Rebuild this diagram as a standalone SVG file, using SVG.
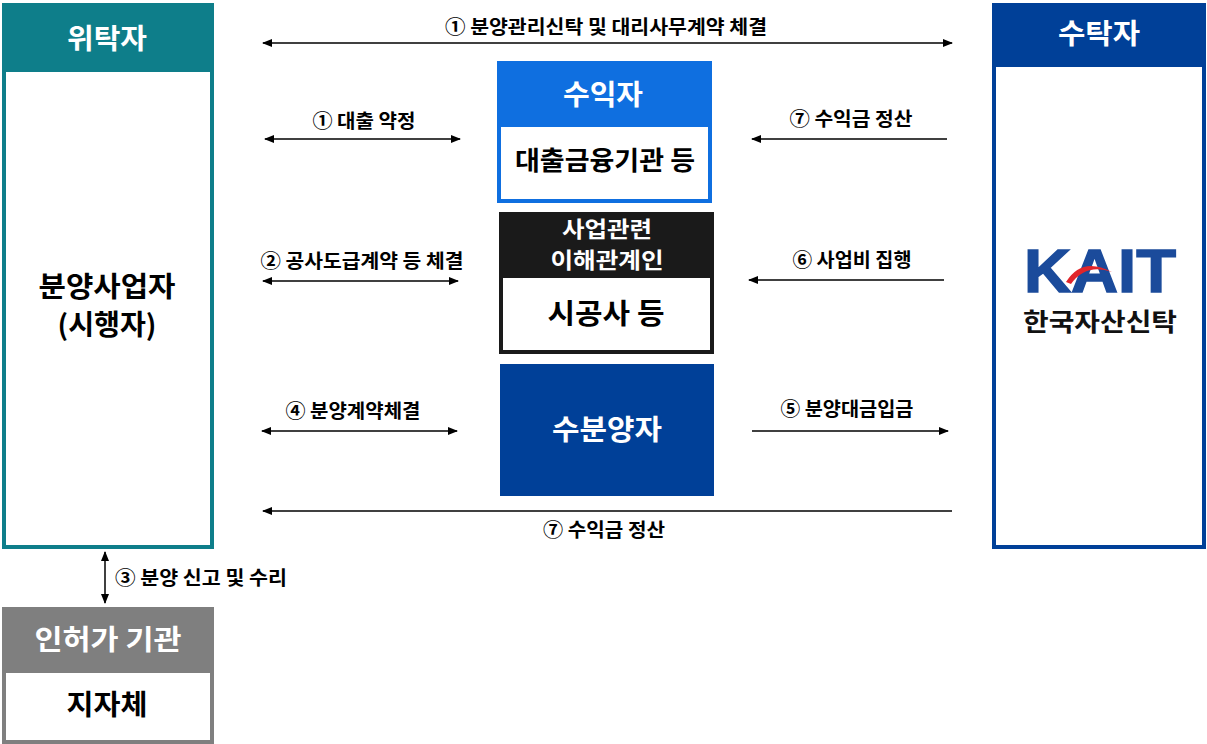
<svg xmlns="http://www.w3.org/2000/svg" width="1207" height="744" viewBox="0 0 1207 744">
<defs>
<marker id="ah" markerUnits="userSpaceOnUse" markerWidth="10" markerHeight="8" refX="9" refY="4" orient="auto-start-reverse">
<path d="M0,0 L10,4 L0,8 Z" fill="#000"/>
</marker>
</defs>
<style>
text{font-family:"Noto Sans CJK KR","Noto Sans",sans-serif;font-weight:700;text-anchor:middle;dominant-baseline:central}
.lbl{font-size:19px;fill:#000}
.hw{fill:#fff;font-size:28px}
.hb{fill:#000;font-size:28px}
.c{stroke:#000;stroke-width:1.5;fill:none}
</style>
<rect width="1207" height="744" fill="#fff"/>

<g id="witakja">
<rect x="4" y="5" width="208" height="542" fill="#fff" stroke="#0E7E8A" stroke-width="4"/>
<rect x="2" y="3" width="212" height="69" fill="#0E7E8A"/>
<text class="hw" x="107" y="37" textLength="80" lengthAdjust="spacingAndGlyphs">위탁자</text>
<text class="hb" x="107" y="285" textLength="137" lengthAdjust="spacingAndGlyphs">분양사업자</text>
<text class="hb" x="107" y="323" textLength="99" lengthAdjust="spacingAndGlyphs">(시행자)</text>
</g>

<g id="sutakja">
<rect x="994" y="5" width="210" height="542" fill="#fff" stroke="#004098" stroke-width="4"/>
<rect x="992" y="3" width="214" height="64" fill="#004098"/>
<text class="hw" x="1099" y="32" textLength="82" lengthAdjust="spacingAndGlyphs">수탁자</text>
<text x="1100" y="292" style="font-family:'Liberation Sans',Arial,sans-serif;font-size:62px;font-weight:700;fill:#1B4B9B;stroke:#1B4B9B;stroke-width:1.5;dominant-baseline:alphabetic" textLength="152" lengthAdjust="spacingAndGlyphs">KAIT</text>
<path d="M1066,282 Q1082,256 1112,272 Q1086,263 1071,284 Z" fill="#E0252B"/>
<text x="1100" y="320" style="font-size:25px;fill:#111" textLength="154" lengthAdjust="spacingAndGlyphs">한국자산신탁</text>
</g>

<g id="suikja">
<rect x="499" y="63" width="211" height="138" fill="#fff" stroke="#0F6FE0" stroke-width="4"/>
<rect x="497" y="61" width="215" height="66" fill="#0F6FE0"/>
<text class="hw" x="603" y="93" textLength="80" lengthAdjust="spacingAndGlyphs">수익자</text>
<text class="hb" x="605" y="158" style="font-size:26px" textLength="180" lengthAdjust="spacingAndGlyphs">대출금융기관 등</text>
</g>

<g id="sigongsa">
<rect x="501" y="214" width="211" height="138" fill="#fff" stroke="#1A1A1A" stroke-width="4"/>
<rect x="499" y="212" width="215" height="66" fill="#1A1A1A"/>
<text class="hw" x="607" y="227" style="font-size:22px" textLength="90" lengthAdjust="spacingAndGlyphs">사업관련</text>
<text class="hw" x="607" y="258" style="font-size:22px" textLength="113" lengthAdjust="spacingAndGlyphs">이해관계인</text>
<text class="hb" x="606" y="312" textLength="117" lengthAdjust="spacingAndGlyphs">시공사 등</text>
</g>

<g id="subunyangja">
<rect x="500" y="364" width="214" height="132" fill="#004098"/>
<text class="hw" x="607" y="428" textLength="110" lengthAdjust="spacingAndGlyphs">수분양자</text>
</g>

<g id="inheoga">
<rect x="4" y="609" width="208" height="133" fill="#fff" stroke="#7F7F7F" stroke-width="4"/>
<rect x="2" y="607" width="212" height="66" fill="#7F7F7F"/>
<text class="hw" x="108" y="638" textLength="147" lengthAdjust="spacingAndGlyphs">인허가 기관</text>
<text class="hb" x="107" y="703" textLength="81" lengthAdjust="spacingAndGlyphs">지자체</text>
</g>

<g id="connectors">
<line class="c" x1="263" y1="43" x2="952" y2="43" marker-start="url(#ah)" marker-end="url(#ah)"/>
<line class="c" x1="265" y1="139" x2="460" y2="139" marker-start="url(#ah)" marker-end="url(#ah)"/>
<line class="c" x1="263" y1="281" x2="458" y2="281" marker-start="url(#ah)" marker-end="url(#ah)"/>
<line class="c" x1="262" y1="431" x2="457" y2="431" marker-start="url(#ah)" marker-end="url(#ah)"/>
<line class="c" x1="947" y1="139" x2="752" y2="139" marker-end="url(#ah)"/>
<line class="c" x1="944" y1="280" x2="749" y2="280" marker-end="url(#ah)"/>
<line class="c" x1="752" y1="431" x2="948" y2="431" marker-end="url(#ah)"/>
<line class="c" x1="952" y1="511" x2="263" y2="511" marker-end="url(#ah)"/>
<line class="c" x1="105" y1="552" x2="105" y2="603" marker-start="url(#ah)" marker-end="url(#ah)"/>
<text class="lbl" x="606" y="25" textLength="322" lengthAdjust="spacingAndGlyphs">① 분양관리신탁 및 대리사무계약 체결</text>
<text class="lbl" x="364" y="119" textLength="103" lengthAdjust="spacingAndGlyphs">① 대출 약정</text>
<text class="lbl" x="362" y="259" textLength="203" lengthAdjust="spacingAndGlyphs">② 공사도급계약 등 체결</text>
<text class="lbl" x="353" y="409" textLength="135" lengthAdjust="spacingAndGlyphs">④ 분양계약체결</text>
<text class="lbl" x="851" y="117" textLength="123" lengthAdjust="spacingAndGlyphs">⑦ 수익금 정산</text>
<text class="lbl" x="852" y="258" textLength="119" lengthAdjust="spacingAndGlyphs">⑥ 사업비 집행</text>
<text class="lbl" x="847" y="407" textLength="133" lengthAdjust="spacingAndGlyphs">⑤ 분양대금입금</text>
<text class="lbl" x="604" y="528" textLength="122" lengthAdjust="spacingAndGlyphs">⑦ 수익금 정산</text>
<text class="lbl" x="115" y="576" style="text-anchor:start" textLength="172" lengthAdjust="spacingAndGlyphs">③ 분양 신고 및 수리</text>
</g>
</svg>
